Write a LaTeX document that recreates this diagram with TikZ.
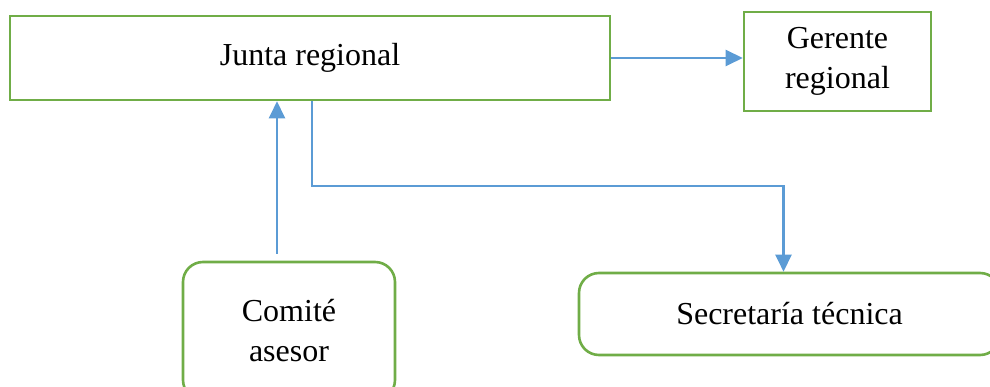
\documentclass[tikz,border=0pt]{standalone}
\usepackage{fontspec}
\setmainfont{Liberation Serif}
\usepackage{tikz}
\usetikzlibrary{arrows.meta,positioning}

\definecolor{boxgreen}{RGB}{112,173,71}
\definecolor{lineblue}{RGB}{91,155,213}

\begin{document}
\begin{tikzpicture}[x=1pt,y=-1pt]
	\tikzset{unit/.style={draw=boxgreen,line width=2.6pt,align=center,inner sep=0pt,
			font=\fontsize{32}{40}\selectfont}}
	\tikzset{runit/.style={unit,rounded corners=20pt}}
	\tikzset{link/.style={draw=lineblue,line width=2.4pt,-{Triangle[length=17pt,width=16pt]}}}
	\clip (0,0) rectangle (990,387);
	\useasboundingbox (0,0) rectangle (990,387);

	\node[unit,minimum width=600pt,minimum height=84pt] (junta) at (310,58) {Junta regional};
	\node[unit,minimum width=187pt,minimum height=99pt] (gerente) at (837.5,61.5) {Gerente\\regional};
	\node[runit,minimum width=212pt,minimum height=138pt] (comite) at (289,331) {Comité\\asesor};
	\node[runit,minimum width=421pt,minimum height=82pt] (secretaria) at (789.5,314) {Secretaría técnica};

	%% Draw links
	\coordinate (cfoot) at ([xshift=-12pt,yshift=7pt]comite.north);
	\path[link] (junta.east) -- (junta.east -| gerente.west);
	\path[link] (cfoot) -- (cfoot |- junta.south);
	\path[link] ([xshift=2pt]junta.south) -- ++(0,85) -| ([xshift=-6pt]secretaria.north);
\end{tikzpicture}
\end{document}
